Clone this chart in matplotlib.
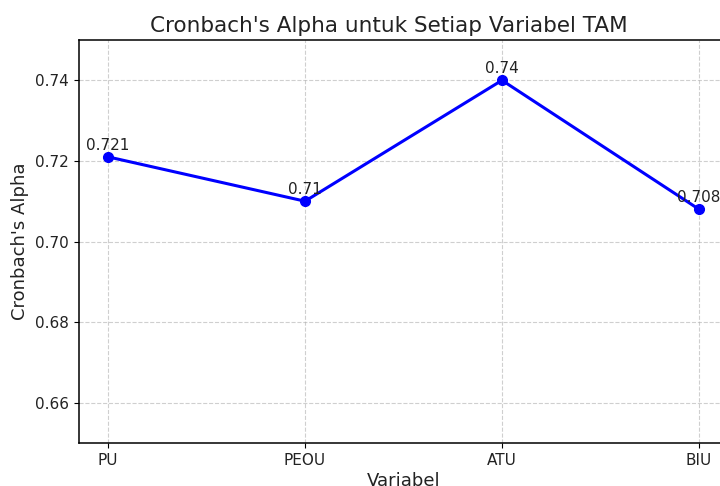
import matplotlib
matplotlib.use('agg')
import matplotlib.pyplot as plt

# data
variabel = ['PU', 'PEOU', 'ATU', 'BIU']
alpha = [0.721, 0.71, 0.74, 0.708]
labels = ['0.721', '0.71', '0.74', '0.708']

fig = plt.figure(figsize=(7.2, 4.86), dpi=100)
# axes runs past the right edge like the cropped original
ax = fig.add_axes([78.5 / 720, 1 - 443 / 486, 650 / 720, 403 / 486])

ax.plot(variabel, alpha, marker='o', color='blue', linewidth=2.2, markersize=7)

# angka di atas titik
for i, v in enumerate(alpha):
    ax.annotate(labels[i], (i, v), textcoords='offset points', xytext=(0, 5),
                ha='center', fontsize=11, color='#222222')

ax.set_ylim(0.65, 0.75)
ax.set_title("Cronbach's Alpha untuk Setiap Variabel TAM", fontsize=15.5,
             color='#222222', x=(389 - 78.5) / 650)
ax.set_xlabel('Variabel', fontsize=13, color='#222222', labelpad=3)
ax.set_ylabel("Cronbach's Alpha", fontsize=13, color='#222222')
ax.tick_params(labelsize=11, labelcolor='#222222')
ax.grid(True, linestyle='--', alpha=0.6)
for s in ax.spines.values():
    s.set_linewidth(1.1)

plt.savefig('out.png', dpi=100)
